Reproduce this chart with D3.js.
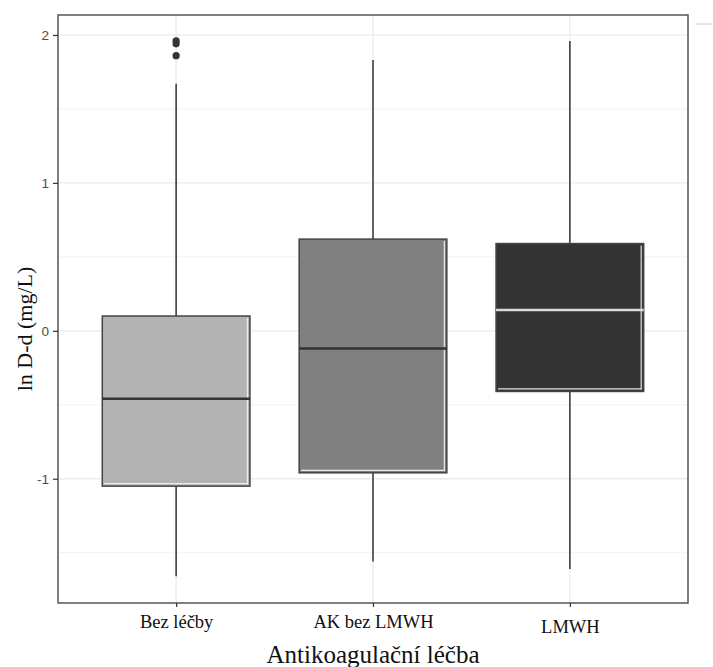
<!DOCTYPE html>
<html>
<head>
<meta charset="utf-8">
<script src="https://cdn.jsdelivr.net/npm/d3@7"></script>
<style>
  html, body { margin: 0; padding: 0; background: #fff; }
  svg { display: block; }
</style>
</head>
<body>
<svg id="chart" width="713" height="667"></svg>
<script>
// ---- data ----
const categories = ["Bez léčby", "AK bez LMWH", "LMWH"];
const q1Values = [-1.05, -0.96, -0.41];
const medianValues = [-0.46, -0.12, 0.14];
const q3Values = [0.10, 0.62, 0.59];
const whiskerLow = [-1.66, -1.56, -1.61];
const whiskerHigh = [1.67, 1.83, 1.96];
const outliers = [[1.96, 1.94, 1.86], [], []];
const fills = ["#b3b3b3", "#808080", "#333333"];
const medianColors = ["#333333", "#333333", "#d9d9d9"];
const yTicks = [-1, 0, 1, 2];
const yMinor = [-1.5, -0.5, 0.5, 1.5];

(function () {
const svg = d3.select("#chart");
const pLeft = 58, pRight = 688, pTop = 15, pBottom = 603;
const serif = "'Liberation Serif', 'Times New Roman', serif";

// discrete x: positions 1..3 with 0.6 expansion each side
const x = d3.scaleLinear().domain([0.4, 3.6]).range([pLeft, pRight]);
const y = d3.scaleLinear().domain([-1.84, 2.135]).range([pBottom, pTop]);
const unit = x(2) - x(1);
const boxW = 0.75 * unit;

// panel background
svg.append("rect").attr("x", pLeft).attr("y", pTop)
  .attr("width", pRight - pLeft).attr("height", pBottom - pTop).attr("fill", "#fff");

// grid
const g = svg.append("g");
g.selectAll(".ymin").data(yMinor).enter().append("line")
  .attr("x1", pLeft).attr("x2", pRight)
  .attr("y1", d => y(d)).attr("y2", d => y(d))
  .attr("stroke", "#f2f2f2").attr("stroke-width", 1);
g.selectAll(".ymaj").data(yTicks).enter().append("line")
  .attr("x1", pLeft).attr("x2", pRight)
  .attr("y1", d => y(d)).attr("y2", d => y(d))
  .attr("stroke", "#ebebeb").attr("stroke-width", 1.3);
g.selectAll(".xmaj").data(categories).enter().append("line")
  .attr("x1", (d, i) => x(i + 1)).attr("x2", (d, i) => x(i + 1))
  .attr("y1", pTop).attr("y2", pBottom)
  .attr("stroke", "#ebebeb").attr("stroke-width", 1.3);

// boxes
const boxes = svg.append("g").selectAll("g").data(categories).enter().append("g");
boxes.append("line")
  .attr("x1", (d, i) => x(i + 1)).attr("x2", (d, i) => x(i + 1))
  .attr("y1", (d, i) => y(q3Values[i])).attr("y2", (d, i) => y(whiskerHigh[i]))
  .attr("stroke", "#333").attr("stroke-width", 1.5);
boxes.append("line")
  .attr("x1", (d, i) => x(i + 1)).attr("x2", (d, i) => x(i + 1))
  .attr("y1", (d, i) => y(q1Values[i])).attr("y2", (d, i) => y(whiskerLow[i]))
  .attr("stroke", "#333").attr("stroke-width", 1.5);
boxes.append("rect")
  .attr("x", (d, i) => x(i + 1) - boxW / 2)
  .attr("y", (d, i) => y(q3Values[i]))
  .attr("width", boxW)
  .attr("height", (d, i) => y(q1Values[i]) - y(q3Values[i]))
  .attr("fill", (d, i) => fills[i])
  .attr("stroke", "#444").attr("stroke-width", 1.5);
// white inner highlights (right and bottom edges)
boxes.append("line")
  .attr("x1", (d, i) => x(i + 1) + boxW / 2 - 2.5).attr("x2", (d, i) => x(i + 1) + boxW / 2 - 2.5)
  .attr("y1", (d, i) => y(q3Values[i]) + 2).attr("y2", (d, i) => y(q1Values[i]) - 2)
  .attr("stroke", "#f4f4f4").attr("stroke-width", 1.2).attr("opacity", 0.9);
boxes.append("line")
  .attr("x1", (d, i) => x(i + 1) - boxW / 2 + 2).attr("x2", (d, i) => x(i + 1) + boxW / 2 - 2)
  .attr("y1", (d, i) => y(q1Values[i]) - 2.5).attr("y2", (d, i) => y(q1Values[i]) - 2.5)
  .attr("stroke", "#f4f4f4").attr("stroke-width", 1.2).attr("opacity", 0.9);
// median
boxes.append("line")
  .attr("x1", (d, i) => x(i + 1) - boxW / 2).attr("x2", (d, i) => x(i + 1) + boxW / 2)
  .attr("y1", (d, i) => y(medianValues[i])).attr("y2", (d, i) => y(medianValues[i]))
  .attr("stroke", (d, i) => medianColors[i]).attr("stroke-width", 2.5);
// outliers
boxes.each(function (d, i) {
  d3.select(this).selectAll("circle").data(outliers[i]).enter().append("circle")
    .attr("cx", x(i + 1)).attr("cy", v => y(v)).attr("r", 3.6)
    .attr("fill", "#333");
});

// panel border
svg.append("rect").attr("x", pLeft).attr("y", pTop)
  .attr("width", pRight - pLeft).attr("height", pBottom - pTop)
  .attr("fill", "none").attr("stroke", "#555").attr("stroke-width", 1.5);

// y axis
const yAxis = d3.axisLeft(y).tickValues(yTicks).tickSize(5).tickPadding(4).tickFormat(d => String(d));
const ya = svg.append("g").attr("transform", `translate(${pLeft},0)`).call(yAxis);
ya.select(".domain").remove();
ya.selectAll("line").attr("stroke", "#333").attr("stroke-width", 1.2);
ya.selectAll("text").attr("fill", "#4d4d4d").style("font-family", "'Liberation Sans', Arial, sans-serif").style("font-size", "13.5px");

// x axis
const xAxis = d3.axisBottom(x).tickValues([1, 2, 3]).tickSize(4).tickPadding(8)
  .tickFormat((d) => categories[d - 1]);
const xa = svg.append("g").attr("transform", `translate(0,${pBottom})`).call(xAxis);
xa.select(".domain").remove();
xa.selectAll("line").attr("stroke", "#333").attr("stroke-width", 1.2);
xa.selectAll("text").attr("fill", "#111").style("font-family", serif).style("font-size", "18.5px")
  .attr("dy", (d) => d === 3 ? "0.98em" : "0.71em");

// titles
svg.append("text").attr("x", (pLeft + pRight) / 2).attr("y", 663)
  .attr("text-anchor", "middle").attr("fill", "#111")
  .style("font-family", serif).style("font-size", "25px")
  .text("Antikoagulační léčba");
svg.append("text").attr("transform", "translate(32,329) rotate(-90)")
  .attr("text-anchor", "middle").attr("fill", "#111")
  .style("font-family", serif).style("font-size", "22px")
  .text("ln D-d (mg/L)");

// small artifact line top right
svg.append("line").attr("x1", 696).attr("x2", 712).attr("y1", 24).attr("y2", 24)
  .attr("stroke", "#ccc").attr("stroke-width", 1);
})();
</script>
</body>
</html>
